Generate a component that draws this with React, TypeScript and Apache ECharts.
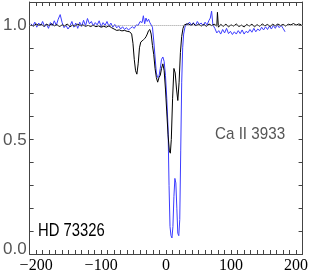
import React, { useEffect, useRef } from "react";
import * as echarts from "echarts";

const blackV = [-208,-204,-200,-196,-192,-188,-184,-180,-176,-172,-168,-164,-160,-156,-152,-148,-144,-140,-136,-132,-128,-124,-120,-116,-112,-108,-104,-100,-96,-92,-88,-84,-80,-76,-72,-68,-64,-60,-56,-53,-51,-49,-47,-45,-43,-41,-39,-37,-35,-33,-31,-29,-27,-25,-23,-21,-19,-17,-15,-13,-11,-9,-7,-5,-3,-1,1,3,5,6.5,8,10,12,14,16,18,20,22,24,26,28,31,34,38,42,46,50,54,58,62,66,70,74,78,79,80.5,84,88,92,96,100,104,108,112,116,120,124,128,132,136,140,144,148,152,156,160,164,168,172,176,180,184,188,192,196,200,204,208];
const blackF = [1.000,0.995,1.004,0.998,1.002,0.994,1.003,0.997,1.005,0.996,1.001,0.993,1.000,0.996,1.004,0.992,0.999,0.995,1.003,0.997,1.000,0.994,0.998,0.993,0.999,0.992,0.996,0.990,0.994,0.990,0.996,0.988,0.982,0.976,0.978,0.974,0.976,0.972,0.970,0.960,0.920,0.850,0.800,0.785,0.830,0.900,0.925,0.930,0.935,0.940,0.948,0.960,0.975,0.980,0.960,0.910,0.870,0.810,0.770,0.750,0.770,0.780,0.810,0.830,0.800,0.720,0.620,0.520,0.450,0.440,0.500,0.680,0.810,0.790,0.720,0.670,0.750,0.880,0.950,0.985,1.000,1.003,1.005,0.998,1.006,0.996,1.003,0.995,1.002,0.994,1.004,0.997,1.003,0.995,1.055,0.990,1.002,0.994,1.003,0.992,1.000,0.995,1.004,0.993,0.999,0.991,1.002,0.995,1.003,0.992,1.001,0.994,1.004,0.996,1.002,0.993,1.003,0.996,1.004,0.997,1.002,0.995,1.003,1.000,1.006,0.999,1.004,1.001];

const blueV = [-208,-205,-202,-199,-196,-193,-190,-187,-184,-181,-178,-175,-172,-169,-166,-163,-160,-157,-154,-151,-148,-145,-142,-139,-136,-133,-130,-127,-124,-121,-118,-115,-112,-109,-106,-103,-100,-97,-94,-91,-88,-85,-82,-79,-76,-73,-70,-67,-64,-61,-58,-55,-52,-49,-46,-43,-40,-37,-35,-33,-31,-29,-27,-25,-23,-21,-19,-17,-15,-13,-11,-9,-7,-5,-3,-1,1,3,4.5,6,7.5,9,10.5,12,13.5,15,16.5,18,19.5,21,22.5,24,25.5,27,29,31,33,36,39,42,45,48,51,54,57,60,63,66,68,70,72,75,78,81,84,87,90,93,96,99,102,105,108,111,114,117,120,123,126,129,132,135,138,141,144,147,150,153,156,159,162,165,168,171,174,177,180,183];
const blueF = [1.005,0.995,1.012,0.990,1.008,0.996,1.015,0.992,1.004,0.985,1.010,0.995,1.018,0.998,1.025,1.045,1.010,0.988,0.998,0.982,0.995,1.015,0.990,1.008,0.985,1.012,0.993,1.020,0.996,1.028,1.005,1.015,0.995,1.010,1.000,1.018,0.992,1.010,0.998,1.015,0.994,1.008,0.990,1.002,0.987,0.996,0.982,0.992,0.980,0.988,0.978,0.985,0.992,0.985,1.000,0.998,1.015,1.010,1.040,1.005,1.030,1.015,1.025,1.010,1.000,0.990,0.930,0.860,0.790,0.770,0.775,0.810,0.850,0.860,0.840,0.780,0.680,0.550,0.300,0.120,0.080,0.070,0.120,0.250,0.330,0.310,0.200,0.090,0.080,0.150,0.450,0.750,0.900,0.960,0.990,1.005,1.000,1.012,0.998,1.010,0.995,1.015,1.002,1.008,0.996,1.012,1.000,1.020,1.030,1.060,1.000,0.985,0.965,0.975,0.960,0.980,0.965,0.985,0.962,0.972,0.958,0.970,0.960,0.975,0.962,0.978,0.960,0.972,0.966,0.980,0.968,0.985,0.970,0.982,0.975,0.990,0.978,0.992,0.980,0.995,0.982,0.998,0.985,1.000,0.988,0.998,0.985,0.970];

const xTickLabels = [-200, -100, 0, 100, 200];
const yTickLabels = [0, 0.5, 1.0];
const starName = "HD 73326";
const lineName = "Ca II 3933";

export default function App() {
  const ref = useRef<HTMLDivElement>(null);
  useEffect(() => {
    if (!ref.current) return;
    const chart = echarts.init(ref.current, null, { renderer: "svg" });
    const axisLine = { show: true, onZero: false, lineStyle: { color: "#444", width: 1 } };
    const tick = { show: true, inside: true, length: 4, lineStyle: { color: "#444" } };
    const xFmt = (v: number) => {
      const r = Math.round(v);
      return xTickLabels.includes(r) ? (r < 0 ? "\u2212" + Math.abs(r) : String(r)) : "";
    };
    const yFmt = (v: number) => {
      const r = Math.round(v * 10) / 10;
      if (!yTickLabels.some((t) => Math.abs(t - r) < 1e-6)) return "";
      return r === 0 ? "{low|" + r.toFixed(1) + "}" : "{n|" + r.toFixed(1) + "}";
    };
    const yFont = { fontFamily: "Liberation Sans", fontSize: 17, color: "#555" };
    const xBase = { type: "value", min: -210, max: 210, interval: 10, splitLine: { show: false }, axisLine, axisTick: tick };
    const yBase = { type: "value", min: 0, max: 1.1, interval: 0.1, splitLine: { show: false }, axisLine, axisTick: tick };
    chart.setOption({
      animation: false,
      grid: { left: 26, right: 7, top: 2, bottom: 19, containLabel: false },
      xAxis: [
        { ...xBase, position: "bottom", axisLabel: { show: true, interval: 0, formatter: xFmt, color: "#000", fontFamily: "Liberation Serif", fontSize: 16, margin: 2 } },
        { ...xBase, position: "top", axisLabel: { show: false } },
      ],
      yAxis: [
        {
          ...yBase,
          position: "left",
          axisLabel: {
            show: true,
            interval: 0,
            formatter: yFmt,
            ...yFont,
            margin: 3,
            rich: { n: { ...yFont }, low: { ...yFont, padding: [0, 0, 12, 0] } },
          },
        },
        { ...yBase, position: "right", axisLabel: { show: false } },
      ],
      series: [
        {
          type: "line",
          data: blueV.map((v, i) => [v, blueF[i]]),
          showSymbol: false,
          lineStyle: { color: "#3b3bff", width: 1 },
          markLine: {
            silent: true,
            symbol: "none",
            label: { show: false },
            lineStyle: { color: "#999", type: "dotted", width: 1 },
            data: [{ yAxis: 1.0 }],
          },
        },
        {
          type: "line",
          data: blackV.map((v, i) => [v, blackF[i]]),
          showSymbol: false,
          lineStyle: { color: "#000", width: 1 },
        },
      ],
      graphic: [
        { type: "text", x: 38, y: 220, scaleX: 0.78, style: { text: starName, fontFamily: "Liberation Sans", fontSize: 19, fill: "#000" } },
        { type: "text", x: 215, y: 125, scaleX: 0.95, style: { text: lineName, fontFamily: "Liberation Sans", fontSize: 16, fill: "#555" } },
      ],
    });
    return () => chart.dispose();
  }, []);
  return <div ref={ref} style={{ position: "fixed", left: 0, top: 0, width: 311, height: 273 }} />;
}
